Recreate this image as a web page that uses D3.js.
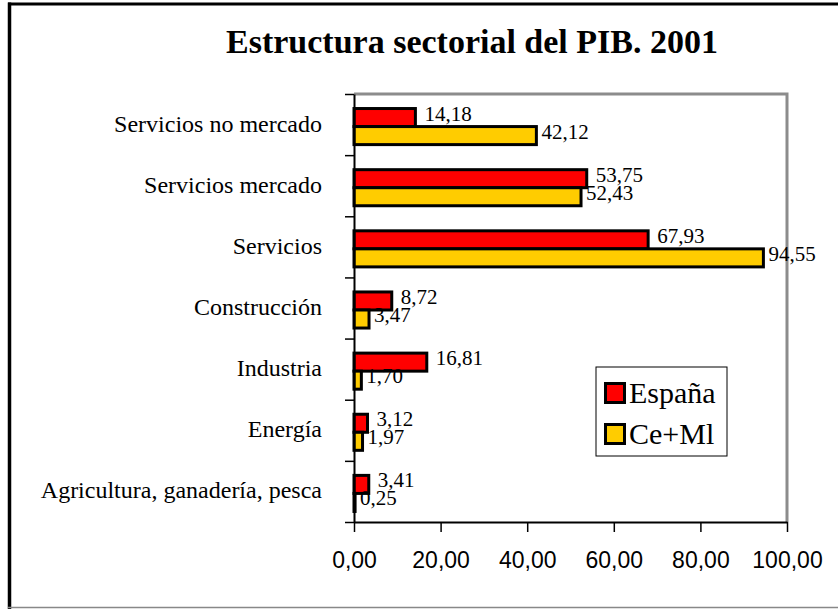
<!DOCTYPE html>
<html>
<head>
    <meta charset="utf-8">
    <style>
        body { margin: 0; background: #fff; }
        text { fill: #000; }
    </style>
</head>
<body>
    <svg width="838" height="609"></svg>
    <script src="https://d3js.org/d3.v7.min.js"></script>
    <script>
        const categories = ["Servicios no mercado", "Servicios mercado", "Servicios", "Construcción",
            "Industria", "Energía", "Agricultura, ganadería, pesca"];
        const seriesNames = ["España", "Ce+Ml"];
        const espana = [14.18, 53.75, 67.93, 8.72, 16.81, 3.12, 3.41];
        const ceml = [42.12, 52.43, 94.55, 3.47, 1.70, 1.97, 0.25];
        const xTicks = [0, 20, 40, 60, 80, 100];
        const colors = ["#ff0000", "#ffcc00"];

        const serif = "'Liberation Serif', 'Times New Roman', serif";
        const sans = "'Liberation Sans', Arial, sans-serif";
        const es = d3.formatLocale({decimal: ",", thousands: ".", grouping: [3], currency: ["", " €"]});
        const fmt = es.format(".2f");

        const svg = d3.select("svg");
        const plot = {left: 354, right: 787, top: 94, bottom: 522};

        // outer frame (only top, left and a thin bottom line show)
        svg.append("line").attr("x1", 8).attr("x2", 838).attr("y1", 4).attr("y2", 4)
            .attr("stroke", "#000").attr("stroke-width", 3);
        svg.append("line").attr("x1", 9.5).attr("x2", 9.5).attr("y1", 2.5).attr("y2", 609)
            .attr("stroke", "#000").attr("stroke-width", 3.5);
        svg.append("line").attr("x1", 8).attr("x2", 838).attr("y1", 607.5).attr("y2", 607.5)
            .attr("stroke", "#888").attr("stroke-width", 1.5);

        svg.append("text")
            .attr("x", 472).attr("y", 53)
            .attr("text-anchor", "middle")
            .style("font-family", serif).style("font-weight", "bold").style("font-size", "34px")
            .text("Estructura sectorial del PIB. 2001");

        const x = d3.scaleLinear().domain([0, 100]).range([plot.left, plot.right]);
        const y = d3.scaleBand().domain(categories).range([plot.top, plot.bottom]);
        const groupH = y.bandwidth() * 0.59;
        const ySub = d3.scaleBand().domain(seriesNames).range([0, groupH]);
        const groupTop = c => y(c) + (y.bandwidth() - groupH) / 2 + 2;

        // grey plot border on top and right
        svg.append("path")
            .attr("d", `M${plot.left},${plot.top}H${plot.right}V${plot.bottom}`)
            .attr("fill", "none").attr("stroke", "#8c8c8c").attr("stroke-width", 3);

        const rows = categories.map((c, i) => ({cat: c, values: [espana[i], ceml[i]]}));

        const g = svg.append("g").selectAll("g")
            .data(rows)
            .join("g")
            .attr("transform", d => `translate(0,${groupTop(d.cat)})`);

        g.selectAll("rect")
            .data(d => d.values.map((v, j) => ({name: seriesNames[j], v: v, j: j})))
            .join("rect")
            .attr("x", x(0))
            .attr("y", d => ySub(d.name))
            .attr("width", d => x(d.v) - x(0))
            .attr("height", ySub.bandwidth())
            .attr("fill", d => colors[d.j])
            .attr("stroke", "#000")
            .attr("stroke-width", 3);

        g.selectAll("text")
            .data(d => d.values.map((v, j) => ({name: seriesNames[j], v: v, j: j})))
            .join("text")
            .attr("x", d => x(d.v) + (d.j === 0 ? 9 : 5))
            .attr("y", d => ySub(d.name) + ySub.bandwidth() / 2 + 3)
            .style("font-family", serif).style("font-size", "21px")
            .text(d => fmt(d.v));

        // category labels
        svg.append("g").selectAll("text")
            .data(categories)
            .join("text")
            .attr("x", 322)
            .attr("y", c => y(c) + y.bandwidth() / 2 + 7)
            .attr("text-anchor", "end")
            .style("font-family", serif).style("font-size", "24px")
            .text(c => c);

        // left axis with ticks between categories
        const yEdges = d3.scaleLinear().domain([0, categories.length]).range([plot.top, plot.bottom]);
        const yAxis = svg.append("g")
            .attr("transform", `translate(${plot.left},0)`)
            .call(d3.axisLeft(yEdges).ticks(categories.length).tickSize(9).tickSizeOuter(0).tickFormat(""));
        yAxis.select(".domain").attr("stroke-width", 2);
        yAxis.selectAll(".tick line").attr("stroke-width", 1.5);

        const xAxis = svg.append("g")
            .attr("transform", `translate(0,${plot.bottom})`)
            .call(d3.axisBottom(x).tickValues(xTicks).tickSize(10).tickSizeOuter(0).tickPadding(20).tickFormat(fmt));
        xAxis.select(".domain").attr("stroke-width", 2);
        xAxis.selectAll(".tick line").attr("stroke-width", 1.5);
        xAxis.selectAll("text").style("font-family", sans).style("font-size", "23px").attr("fill", "#000");

        // legend
        const leg = svg.append("g").attr("transform", "translate(596,367)");
        leg.append("rect").attr("width", 131).attr("height", 89)
            .attr("fill", "#fff").attr("stroke", "#000").attr("stroke-width", 1);
        const item = leg.selectAll("g.item")
            .data(seriesNames)
            .join("g")
            .attr("class", "item")
            .attr("transform", (d, i) => `translate(0,${i * 41})`);
        item.append("rect")
            .attr("x", 9.5).attr("y", 16.5).attr("width", 19).attr("height", 19)
            .attr("fill", (d, i) => colors[i]).attr("stroke", "#000").attr("stroke-width", 3);
        item.append("text")
            .attr("x", 33).attr("y", 36)
            .style("font-family", serif).style("font-size", "30px")
            .text(d => d);
    </script>
</body>
</html>
